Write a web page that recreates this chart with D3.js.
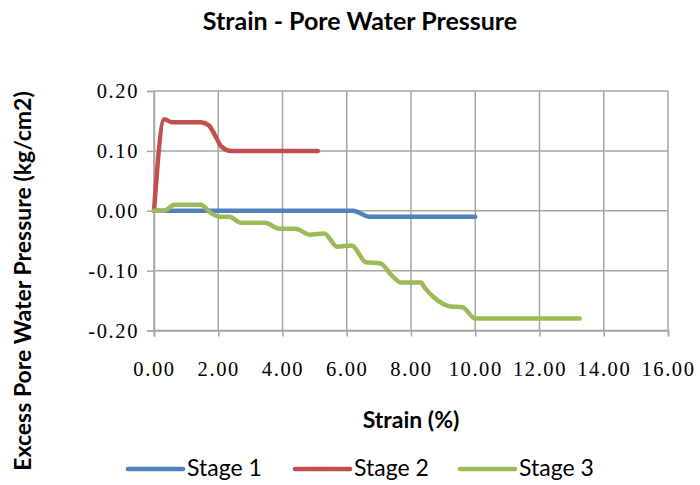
<!DOCTYPE html>
<html>
<head>
<meta charset="utf-8">
<script src="https://cdn.jsdelivr.net/npm/d3@7"></script>
<style>
  html, body { margin: 0; padding: 0; background: #fff; }
  svg { display: block; }
</style>
</head>
<body>
<svg id="chart" width="700" height="485"></svg>
<script>
// Strain (%) vs excess pore water pressure (kg/cm2) for three loading stages
const stage1Strain = [0, 6.2, 6.45, 6.7, 10.0];
const stage1Pwp    = [0, 0, -0.005, -0.01, -0.01];

const stage2Strain = [0, 0.32, 0.55, 1.45, 1.7, 1.9, 2.1, 2.4, 2.65, 5.1];
const stage2Pwp    = [0, 0.153, 0.148, 0.148, 0.143, 0.126, 0.107, 0.100, 0.100, 0.100];

const stage3Strain = [0, 0.3, 0.65, 1.45, 1.8, 2.05, 2.35, 2.7, 3.45, 3.9, 4.4, 4.85, 5.3, 5.7, 6.15, 6.6, 7.05, 7.4, 7.7, 8.3, 8.45, 8.7, 9.25, 9.6, 10.0, 10.4, 13.25];
const stage3Pwp    = [0, 0, 0.01, 0.01, -0.005, -0.01, -0.01, -0.02, -0.02, -0.03, -0.03, -0.04, -0.038, -0.06, -0.058, -0.086, -0.088, -0.108, -0.12, -0.12, -0.13, -0.144, -0.16, -0.161, -0.18, -0.18, -0.18];

const seriesNames  = ["Stage 1", "Stage 2", "Stage 3"];
const seriesColors = ["#4F81BD", "#C0504D", "#9BBB59"];

const xTicks = [0, 2, 4, 6, 8, 10, 12, 14, 16];
const yTicks = [-0.2, -0.1, 0, 0.1, 0.2];

const chartTitle = "Strain - Pore Water Pressure";
const xTitle = "Strain (%)";
const yTitle = "Excess Pore Water Pressure (kg/cm2)";

const series = [
  { name: seriesNames[0], color: seriesColors[0], pts: stage1Strain.map((s, i) => [s, stage1Pwp[i]]) },
  { name: seriesNames[1], color: seriesColors[1], pts: stage2Strain.map((s, i) => [s, stage2Pwp[i]]) },
  { name: seriesNames[2], color: seriesColors[2], pts: stage3Strain.map((s, i) => [s, stage3Pwp[i]]) }
];

const svg = d3.select("#chart");
const plot = { left: 154, right: 668, top: 91, bottom: 330.5 };

const x = d3.scaleLinear().domain([0, 16]).range([plot.left, plot.right]);
const y = d3.scaleLinear().domain([-0.2, 0.2]).range([plot.bottom, plot.top]);

const gridColor = "#a6a6a6";
const sans = "Lato, 'Open Sans', sans-serif";
const serif = "'Liberation Serif', 'DejaVu Serif', serif";

// two-decimal labels with a plain hyphen for negatives
const fmt2 = d => d3.format(".2f")(d).replace("\u2212", "-");

// gridlines
svg.append("g").selectAll("line.v").data(xTicks).join("line")
  .attr("x1", d => x(d)).attr("x2", d => x(d))
  .attr("y1", plot.top).attr("y2", plot.bottom)
  .attr("stroke", gridColor).attr("stroke-width", 1.5);
svg.append("g").selectAll("line.h").data(yTicks).join("line")
  .attr("x1", plot.left).attr("x2", plot.right)
  .attr("y1", d => y(d)).attr("y2", d => y(d))
  .attr("stroke", gridColor).attr("stroke-width", 1.5);

// axes
const yAxis = d3.axisLeft(y).tickValues(yTicks).tickFormat(fmt2).tickSize(7).tickPadding(10);
const gy = svg.append("g").attr("transform", `translate(${plot.left},0)`).call(yAxis);
const xAxis = d3.axisBottom(x).tickValues(xTicks).tickFormat(fmt2).tickSize(6).tickPadding(25);
const gx = svg.append("g").attr("transform", `translate(0,${y(-0.2)})`).call(xAxis);

[gx, gy].forEach(g => {
  g.select(".domain").attr("stroke", gridColor).attr("stroke-width", 1.5);
  g.selectAll(".tick line").attr("stroke", gridColor).attr("stroke-width", 1.5);
  g.selectAll(".tick text")
    .attr("fill", "#000")
    .style("font-family", serif)
    .style("font-size", "20.5px")
    .style("letter-spacing", "1.6px");
});
gy.selectAll(".tick text").attr("dx", "2px");

// series lines
const line = d3.line()
  .x(d => x(d[0]))
  .y(d => y(d[1]))
  .curve(d3.curveMonotoneX);

svg.append("g").selectAll("path").data(series).join("path")
  .attr("d", d => line(d.pts))
  .attr("fill", "none")
  .attr("stroke", d => d.color)
  .attr("stroke-width", 4.5)
  .attr("stroke-linecap", "round")
  .attr("stroke-linejoin", "round");

// titles
svg.append("text")
  .attr("x", 360).attr("y", 30)
  .attr("text-anchor", "middle")
  .style("font-family", sans).style("font-weight", "bold").style("font-size", "25px")
  .text(chartTitle);

svg.append("text")
  .attr("x", 411).attr("y", 428)
  .attr("text-anchor", "middle")
  .style("font-family", sans).style("font-weight", "bold").style("font-size", "23px")
  .text(xTitle);

svg.append("text")
  .attr("transform", "translate(31,281) rotate(-90)")
  .attr("text-anchor", "middle")
  .style("font-family", sans).style("font-weight", "bold").style("font-size", "23px")
  .text(yTitle);

// legend
const legendX = [128, 295, 460];
const lg = svg.append("g").selectAll("g").data(series).join("g")
  .attr("transform", (d, i) => `translate(${legendX[i]},469)`);
lg.append("line")
  .attr("x1", 0).attr("x2", 55).attr("y1", 0).attr("y2", 0)
  .attr("stroke", d => d.color).attr("stroke-width", 4.5)
  .attr("stroke-linecap", "round");
lg.append("text")
  .attr("x", 59).attr("y", 7)
  .style("font-family", sans).style("font-size", "23px")
  .text(d => d.name);
</script>
</body>
</html>
